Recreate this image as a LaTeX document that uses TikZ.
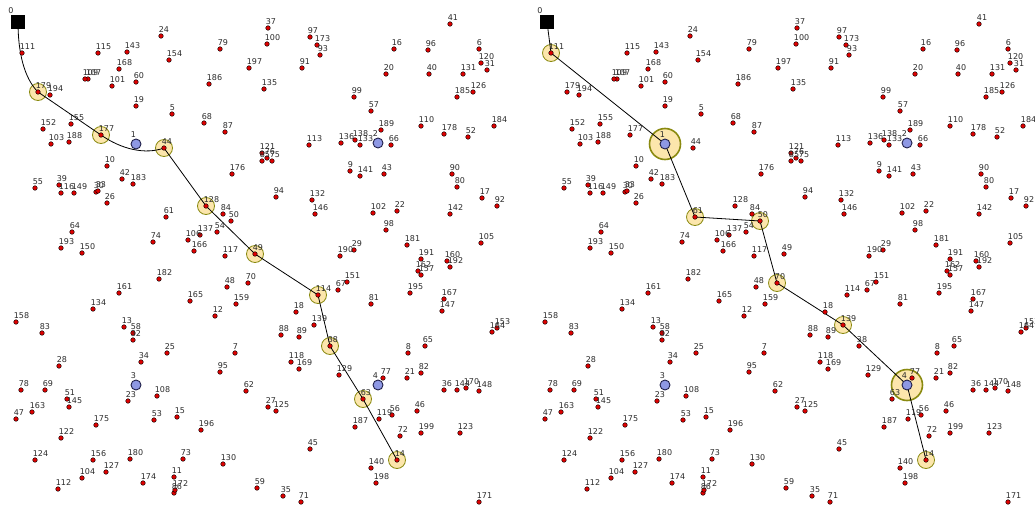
\documentclass[tikz,border=0pt]{standalone}
\usepackage{fontspec}
\setmainfont{DejaVu Sans}
\usepackage{xcolor}
\definecolor{dotRed}{HTML}{DD0000}
\definecolor{hopFill}{HTML}{FCE6AC}
\definecolor{hopRim}{HTML}{8A8A10}
\definecolor{baseBlue}{HTML}{8E98E4}
\definecolor{baseRim}{HTML}{20204A}
\definecolor{labelGray}{HTML}{2B2B2B}

\newcommand{\dotlist}{5/172/114, 6/479/49, 7/235/353, 8/408/353, 9/350/171,
 10/107/166, 11/174/477, 12/215/316, 13/124/327, 14/397/460, 15/177/417,
 16/394/49, 17/482/198, 18/296/312, 19/136/106, 20/386/74, 21/407/378,
 22/397/211, 23/128/401, 24/161/36, 25/167/353, 26/107/203, 27/268/407,
 28/59/366, 29/354/250, 30/96/192, 31/487/70, 32/133/340, 33/98/191,
 34/141/362, 35/283/496, 36/444/390, 37/268/28, 38/330/346, 39/59/185,
 40/429/74, 41/450/24, 42/122/179, 43/384/174, 44/164/148, 45/310/449,
 46/417/411, 47/16/419, 48/227/287, 49/255/254, 50/231/221, 51/67/399,
 52/468/137, 53/154/420, 54/217/232, 55/35/188, 56/392/415, 57/371/111,
 58/133/333, 59/257/488, 60/136/82, 61/166/217, 62/246/391, 63/363/399,
 64/72/232, 65/425/346, 66/391/145, 67/338/290, 68/204/123, 69/45/390,
 70/248/283, 71/301/502, 72/400/436, 73/183/459, 74/153/242, 75/272/161,
 76/267/158, 77/383/378, 78/21/390, 79/220/49, 80/457/187, 81/371/304,
 82/421/373, 83/42/333, 84/223/214, 85/262/161, 86/174/493, 87/225/132,
 88/281/335, 89/299/337, 90/452/174, 91/302/68, 92/497/206, 93/320/55,
 94/276/197, 95/220/372, 96/428/50, 97/310/37, 98/386/230, 99/354/97,
 100/267/44, 101/112/86, 102/373/213, 103/51/144, 104/82/478, 105/481/243,
 106/188/240, 107/88/79, 108/157/396, 109/85/79, 110/421/126, 111/22/53,
 112/58/489, 113/309/145, 114/318/295, 115/98/53, 116/61/193, 117/225/256,
 118/291/362, 119/379/419, 120/481/63, 121/262/153, 122/61/438, 123/460/433,
 124/35/460, 125/276/411, 126/473/92, 127/106/472, 128/206/206, 129/339/375,
 130/223/464, 131/463/74, 132/312/200, 133/360/145, 134/93/309, 135/264/89,
 136/341/143, 137/200/235, 138/355/140, 139/314/325, 140/371/468, 141/360/176,
 142/450/214, 143/127/52, 144/457/390, 145/69/407, 146/315/214, 147/442/311,
 148/479/391, 149/74/193, 150/82/253, 151/347/282, 152/43/129, 153/497/328,
 154/169/60, 155/71/124, 156/93/460, 157/421/275, 158/16/322, 159/236/304,
 160/447/261, 161/119/293, 162/418/271, 163/32/412, 164/492/332, 165/190/301,
 166/194/251, 167/444/299, 168/119/69, 169/299/369, 170/466/388, 171/479/502,
 172/175/490, 173/317/45, 174/143/483, 175/96/425, 176/232/174, 177/101/135,
 178/444/134, 179/38/92, 180/130/459, 181/407/245, 182/159/279, 183/133/184,
 184/494/126, 185/457/97, 186/209/84, 187/355/427, 188/69/142, 189/381/130,
 190/340/256, 191/421/259, 192/450/267, 193/61/248, 194/50/95, 195/410/293,
 196/201/430, 197/249/68, 198/376/483, 199/421/433}

\begin{document}
\begin{tikzpicture}[
    x=1pt, y=-1pt,
    font=\fontsize{8}{9}\selectfont,
    reddot/.style={circle, fill=dotRed, draw=black, line width=0.4pt, inner sep=0pt, minimum size=4.6pt},
    basenode/.style={circle, fill=baseBlue, draw=baseRim, line width=0.9pt, inner sep=0pt, minimum size=10pt},
    startbox/.style={fill=black, inner sep=0pt, minimum size=13.5pt},
    hop/.style={circle, fill=hopFill, draw=hopRim, line width=0.8pt, inner sep=0pt, minimum size=17pt},
    bighop/.style={hop, line width=1.6pt, minimum size=31pt},
    lbl/.style={text=labelGray, inner sep=0pt, anchor=south west},
    route/.style={draw=black, line width=0.8pt}
]
    \fill[white] (0,0) rectangle (1035,506);
    \useasboundingbox (0,0) rectangle (1035,506);

    \foreach \n/\x/\y in {0/18/22, 1/136/144, 2/378/143, 3/136/385, 4/378/385}
    {
        \coordinate (L\n) at (\x,\y);
        \coordinate (R\n) at (\x+529,\y);
    }
    \foreach \n/\x/\y in \dotlist
    {
        \coordinate (L\n) at (\x,\y);
        \coordinate (R\n) at (\x+529,\y);
    }

    \foreach \n in {179,177,44,128,49,114,38,63,14}
        \node[hop] (hL\n) at (L\n) {};
    \foreach \n in {111,61,50,70,139,14}
        \node[hop] (hR\n) at (R\n) {};
    \foreach \n in {1,4}
        \node[bighop] (hR\n) at (R\n) {};

    \draw[route] (L0) .. controls +(0,30) and +(-14,-14) .. (L179) -- (L177)
        .. controls +(20,14) and +(-19,7) .. (L44) -- (L128) -- (L49)
        -- (L114) -- (L38) -- (L63) -- (L14);
    \draw[route] (R0) -- (R111) -- (R1) -- (R61) -- (R50) -- (R70)
        -- (R139) -- (R4) -- (R14);

    \foreach \n/\x/\y in \dotlist
    {
        \node[reddot] (dL\n) at (L\n) {};
        \node[reddot] (dR\n) at (R\n) {};
    }
    \foreach \n/\x/\y in \dotlist
    {
        \node[lbl] (tL\n) at ([shift={(-2.3,-3.5)}]L\n) {\n};
        \node[lbl] (tR\n) at ([shift={(-2.3,-3.5)}]R\n) {\n};
    }

    \foreach \n in {1,...,4}
    {
        \node[basenode] (bL\n) at (L\n) {};
        \node[basenode] (bR\n) at (R\n) {};
        \node[lbl, anchor=south] (tL\n) at ([shift={(-2.5,-6.5)}]L\n) {\n};
        \node[lbl, anchor=south] (tR\n) at ([shift={(-2.5,-6.5)}]R\n) {\n};
    }

    \node[startbox] (sL) at (L0) {};
    \node[startbox] (sR) at (R0) {};
    \node[lbl, anchor=south] (tL0) at ([shift={(-7,-8.5)}]L0) {0};
    \node[lbl, anchor=south] (tR0) at ([shift={(-7,-8.5)}]R0) {0};
\end{tikzpicture}
\end{document}
